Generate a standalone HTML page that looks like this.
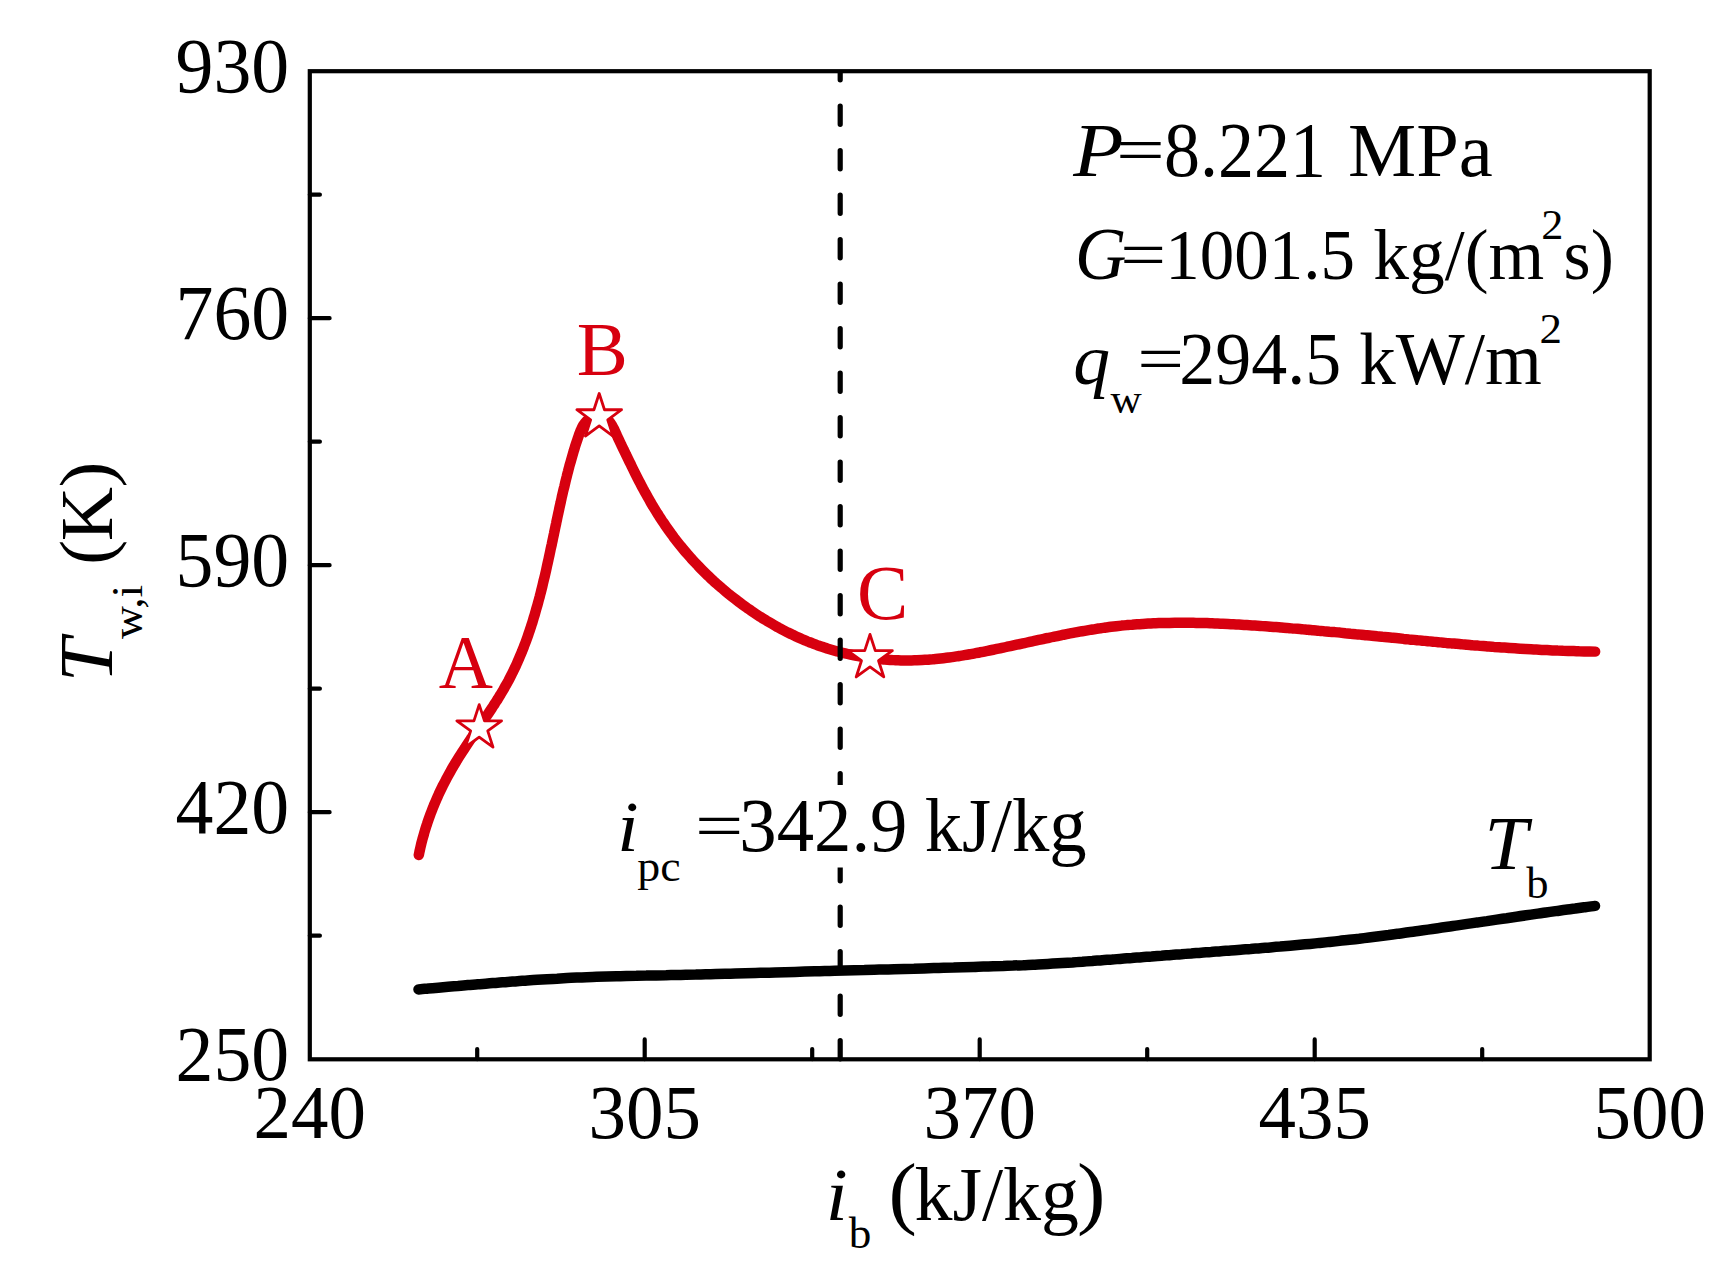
<!DOCTYPE html>
<html lang="en"><head><meta charset="utf-8"><title>Wall temperature vs bulk enthalpy</title>
<style>html,body{margin:0;padding:0;background:#fff}svg{display:block}text{font-family:"Liberation Serif", "Times New Roman", serif;fill:#000}.i{font-style:italic}.r{fill:#d7000f}</style>
</head><body>
<svg width="1728" height="1275" viewBox="0 0 1728 1275">
<rect width="1728" height="1275" fill="#fff"/>
<path d="M418.5,989.4 C420.1,989.3 425.1,988.8 428.4,988.5 C431.7,988.3 435.0,988.0 438.3,987.7 C441.6,987.4 444.8,987.1 448.1,986.8 C451.4,986.5 454.7,986.2 458.0,986.0 C461.3,985.7 464.6,985.4 467.9,985.1 C471.2,984.8 474.5,984.6 477.8,984.3 C481.1,984.0 484.4,983.8 487.7,983.5 C491.0,983.2 494.3,983.0 497.6,982.7 C500.9,982.4 504.2,982.2 507.5,981.9 C510.8,981.7 514.1,981.4 517.4,981.2 C520.7,981.0 524.0,980.7 527.3,980.5 C530.6,980.3 533.9,980.1 537.2,979.8 C540.5,979.6 543.8,979.4 547.1,979.2 C550.4,979.0 553.7,978.8 557.0,978.7 C560.3,978.5 563.6,978.3 566.9,978.1 C570.2,978.0 573.5,977.8 576.8,977.6 C580.1,977.5 583.4,977.3 586.7,977.2 C590.0,977.1 593.3,977.0 596.6,976.8 C599.9,976.7 603.2,976.6 606.5,976.5 C609.8,976.4 613.1,976.3 616.4,976.2 C619.7,976.2 623.0,976.1 626.3,976.0 C629.6,975.9 633.0,975.8 636.3,975.8 C639.6,975.7 642.9,975.6 646.2,975.6 C649.5,975.5 652.8,975.4 656.1,975.4 C659.4,975.3 662.7,975.2 666.0,975.2 C669.3,975.1 672.6,975.1 675.9,975.0 C679.2,974.9 682.5,974.9 685.8,974.8 C689.2,974.7 692.5,974.6 695.8,974.6 C699.1,974.5 702.4,974.4 705.7,974.3 C709.0,974.2 712.3,974.2 715.6,974.1 C718.9,974.0 722.2,973.9 725.5,973.8 C728.8,973.7 732.1,973.7 735.4,973.6 C738.7,973.5 742.0,973.4 745.3,973.3 C748.7,973.2 752.0,973.1 755.3,973.0 C758.6,972.9 761.9,972.8 765.2,972.7 C768.5,972.7 771.8,972.6 775.1,972.5 C778.4,972.4 781.7,972.3 785.0,972.2 C788.3,972.1 791.6,972.0 794.9,971.9 C798.2,971.8 801.5,971.7 804.8,971.6 C808.1,971.5 811.4,971.4 814.8,971.3 C818.1,971.2 821.4,971.1 824.7,971.0 C828.0,970.9 831.3,970.9 834.6,970.8 C837.9,970.7 841.2,970.6 844.5,970.5 C847.8,970.4 851.1,970.3 854.4,970.2 C857.7,970.1 861.0,970.0 864.3,970.0 C867.6,969.9 870.9,969.8 874.3,969.7 C877.6,969.6 880.9,969.5 884.2,969.4 C887.5,969.4 890.8,969.3 894.1,969.2 C897.4,969.1 900.7,969.0 904.0,968.9 C907.3,968.8 910.6,968.7 913.9,968.7 C917.2,968.6 920.5,968.5 923.8,968.4 C927.1,968.3 930.4,968.2 933.8,968.1 C937.1,968.0 940.4,967.9 943.7,967.8 C947.0,967.7 950.3,967.6 953.6,967.6 C956.9,967.5 960.2,967.4 963.5,967.3 C966.8,967.2 970.1,967.1 973.4,967.0 C976.7,966.9 980.0,966.7 983.3,966.6 C986.6,966.5 989.9,966.4 993.2,966.3 C996.6,966.2 999.9,966.1 1003.2,966.0 C1006.5,965.8 1009.8,965.7 1013.1,965.6 C1016.4,965.4 1019.7,965.3 1023.0,965.2 C1026.3,965.0 1029.6,964.9 1032.9,964.7 C1036.2,964.5 1039.5,964.4 1042.8,964.2 C1046.1,964.0 1049.4,963.8 1052.7,963.6 C1056.0,963.4 1059.3,963.2 1062.6,963.0 C1065.9,962.8 1069.2,962.6 1072.5,962.4 C1075.8,962.1 1079.1,961.9 1082.4,961.7 C1085.7,961.4 1089.0,961.2 1092.3,961.0 C1095.6,960.7 1098.9,960.5 1102.2,960.2 C1105.5,960.0 1108.8,959.7 1112.1,959.5 C1115.4,959.2 1118.7,959.0 1121.9,958.7 C1125.2,958.5 1128.5,958.2 1131.8,958.0 C1135.1,957.7 1138.4,957.5 1141.7,957.2 C1145.0,957.0 1148.3,956.7 1151.6,956.5 C1154.9,956.2 1158.2,955.9 1161.5,955.7 C1164.8,955.4 1168.1,955.2 1171.4,954.9 C1174.7,954.7 1178.0,954.4 1181.3,954.2 C1184.6,953.9 1187.9,953.7 1191.2,953.5 C1194.5,953.2 1197.8,953.0 1201.1,952.7 C1204.4,952.5 1207.7,952.2 1211.0,952.0 C1214.3,951.7 1217.6,951.5 1220.9,951.2 C1224.2,951.0 1227.5,950.7 1230.8,950.5 C1234.1,950.3 1237.4,950.0 1240.7,949.7 C1244.0,949.5 1247.3,949.2 1250.6,949.0 C1253.8,948.7 1257.1,948.5 1260.4,948.2 C1263.7,947.9 1267.0,947.7 1270.3,947.4 C1273.6,947.1 1276.9,946.8 1280.2,946.6 C1283.5,946.3 1286.8,946.0 1290.1,945.7 C1293.4,945.4 1296.7,945.1 1300.0,944.8 C1303.3,944.5 1306.6,944.2 1309.9,943.9 C1313.2,943.6 1316.4,943.3 1319.7,942.9 C1323.0,942.6 1326.3,942.3 1329.6,941.9 C1332.9,941.6 1336.2,941.3 1339.5,940.9 C1342.7,940.5 1346.0,940.2 1349.3,939.8 C1352.6,939.4 1355.9,939.0 1359.2,938.7 C1362.5,938.3 1365.7,937.9 1369.0,937.5 C1372.3,937.1 1375.6,936.7 1378.9,936.2 C1382.1,935.8 1385.4,935.4 1388.7,935.0 C1392.0,934.5 1395.3,934.1 1398.5,933.7 C1401.8,933.2 1405.1,932.8 1408.4,932.3 C1411.6,931.9 1414.9,931.4 1418.2,931.0 C1421.5,930.5 1424.7,930.1 1428.0,929.6 C1431.3,929.2 1434.6,928.7 1437.8,928.2 C1441.1,927.8 1444.4,927.3 1447.7,926.8 C1450.9,926.3 1454.2,925.9 1457.5,925.4 C1460.7,924.9 1464.0,924.4 1467.3,923.9 C1470.6,923.5 1473.8,923.0 1477.1,922.5 C1480.4,922.0 1483.6,921.5 1486.9,921.1 C1490.2,920.6 1493.5,920.1 1496.7,919.6 C1500.0,919.1 1503.3,918.6 1506.6,918.2 C1509.8,917.7 1513.1,917.2 1516.4,916.7 C1519.6,916.3 1522.9,915.8 1526.2,915.3 C1529.5,914.8 1532.7,914.4 1536.0,913.9 C1539.3,913.4 1542.6,913.0 1545.8,912.5 C1549.1,912.1 1552.4,911.6 1555.6,911.1 C1558.9,910.7 1562.2,910.2 1565.5,909.8 C1568.7,909.4 1572.0,908.9 1575.3,908.5 C1578.6,908.0 1581.9,907.6 1585.1,907.2 C1588.4,906.8 1593.3,906.1 1595.0,905.9" fill="none" stroke="#000" stroke-width="10.5" stroke-linecap="round" stroke-linejoin="round"/>
<path d="M418.8,855.0 C419.0,854.2 419.5,851.5 419.9,849.8 C420.3,848.0 420.7,846.3 421.1,844.5 C421.5,842.8 422.0,841.1 422.4,839.4 C422.9,837.6 423.4,835.9 423.9,834.2 C424.3,832.5 424.9,830.8 425.4,829.1 C425.9,827.4 426.4,825.7 427.0,824.1 C427.5,822.4 428.1,820.7 428.7,819.0 C429.3,817.4 429.9,815.7 430.5,814.0 C431.1,812.4 431.8,810.7 432.4,809.1 C433.1,807.5 433.7,805.8 434.4,804.2 C435.1,802.6 435.8,800.9 436.5,799.3 C437.2,797.7 437.9,796.1 438.6,794.5 C439.4,792.9 440.1,791.3 440.9,789.7 C441.7,788.1 442.4,786.5 443.2,784.9 C444.0,783.4 444.8,781.8 445.7,780.2 C446.5,778.6 447.3,777.1 448.2,775.5 C449.0,774.0 449.9,772.4 450.7,770.9 C451.6,769.3 452.5,767.8 453.4,766.3 C454.3,764.7 455.2,763.2 456.1,761.7 C457.1,760.1 458.0,758.6 458.9,757.1 C459.9,755.6 460.9,754.1 461.8,752.6 C462.8,751.1 463.8,749.6 464.8,748.1 C465.7,746.6 466.7,745.1 467.7,743.6 C468.7,742.1 469.7,740.6 470.7,739.1 C471.8,737.7 472.8,736.2 473.8,734.7 C474.8,733.2 475.8,731.7 476.8,730.3 C477.9,728.8 478.9,727.3 479.9,725.8 C480.9,724.3 481.9,722.9 482.9,721.4 C484.0,719.9 485.0,718.4 486.0,716.9 C487.0,715.4 488.0,714.0 489.0,712.5 C490.0,711.0 491.0,709.5 492.0,708.0 C493.0,706.5 493.9,705.0 494.9,703.5 C495.9,702.0 496.8,700.5 497.8,699.0 C498.7,697.5 499.7,696.0 500.6,694.4 C501.5,692.9 502.4,691.4 503.3,689.9 C504.2,688.3 505.1,686.8 505.9,685.2 C506.8,683.7 507.7,682.1 508.5,680.6 C509.3,679.0 510.1,677.5 510.9,675.9 C511.7,674.3 512.5,672.7 513.3,671.1 C514.1,669.6 514.8,668.0 515.6,666.4 C516.3,664.8 517.0,663.2 517.7,661.6 C518.5,659.9 519.2,658.3 519.8,656.7 C520.5,655.1 521.2,653.5 521.9,651.8 C522.5,650.2 523.2,648.6 523.8,646.9 C524.4,645.3 525.1,643.6 525.7,642.0 C526.3,640.3 526.9,638.7 527.5,637.0 C528.1,635.3 528.6,633.7 529.2,632.0 C529.8,630.3 530.3,628.7 530.9,627.0 C531.4,625.3 532.0,623.6 532.5,621.9 C533.0,620.2 533.5,618.5 534.0,616.8 C534.6,615.2 535.1,613.5 535.5,611.8 C536.0,610.0 536.5,608.3 537.0,606.6 C537.5,604.9 537.9,603.2 538.4,601.5 C538.9,599.8 539.3,598.1 539.8,596.3 C540.2,594.6 540.7,592.9 541.1,591.2 C541.5,589.5 542.0,587.7 542.4,586.0 C542.8,584.3 543.2,582.5 543.6,580.8 C544.0,579.1 544.5,577.3 544.9,575.6 C545.3,573.8 545.7,572.1 546.1,570.4 C546.5,568.6 546.8,566.9 547.2,565.1 C547.6,563.4 548.0,561.6 548.4,559.9 C548.8,558.2 549.1,556.4 549.5,554.7 C549.9,552.9 550.3,551.2 550.6,549.4 C551.0,547.7 551.4,545.9 551.8,544.2 C552.1,542.4 552.5,540.7 552.9,538.9 C553.2,537.2 553.6,535.4 554.0,533.7 C554.3,531.9 554.7,530.2 555.1,528.4 C555.4,526.7 555.8,524.9 556.2,523.2 C556.5,521.4 556.9,519.7 557.3,517.9 C557.7,516.2 558.0,514.4 558.4,512.7 C558.8,511.0 559.2,509.2 559.5,507.5 C559.9,505.7 560.3,504.0 560.7,502.3 C561.1,500.5 561.5,498.8 561.8,497.0 C562.2,495.3 562.6,493.6 563.0,491.9 C563.4,490.1 563.8,488.4 564.3,486.7 C564.7,484.9 565.1,483.2 565.5,481.5 C565.9,479.8 566.3,478.1 566.8,476.3 C567.2,474.6 567.6,472.9 568.1,471.2 C568.5,469.5 569.0,467.8 569.4,466.1 C569.9,464.4 570.4,462.7 570.9,461.0 C571.3,459.3 571.8,457.6 572.3,455.9 C572.8,454.2 573.3,452.5 573.8,450.8 C574.3,449.0 574.9,447.3 575.4,445.6 C575.9,443.9 576.5,442.2 577.1,440.5 C577.6,438.8 578.2,437.1 578.8,435.4 C579.4,433.7 580.0,431.9 580.7,430.3 C581.5,428.7 582.2,427.0 583.1,425.5 C584.1,424.0 585.1,422.6 586.3,421.3 C587.5,420.0 588.9,418.8 590.4,417.9 C591.9,416.9 593.6,416.1 595.3,415.7 C597.0,415.3 598.8,415.2 600.4,415.5 C602.1,415.9 603.7,416.6 605.2,417.6 C606.6,418.5 608.0,419.8 609.2,421.2 C610.4,422.5 611.3,424.1 612.2,425.6 C613.2,427.2 613.9,428.9 614.7,430.5 C615.4,432.2 616.2,433.9 616.9,435.5 C617.7,437.1 618.4,438.7 619.2,440.3 C619.9,441.9 620.7,443.5 621.4,445.1 C622.2,446.7 623.0,448.2 623.7,449.8 C624.5,451.4 625.3,453.0 626.0,454.6 C626.8,456.2 627.6,457.8 628.3,459.4 C629.1,461.0 629.9,462.6 630.7,464.2 C631.4,465.8 632.2,467.4 633.0,469.0 C633.8,470.6 634.6,472.2 635.4,473.8 C636.2,475.4 637.0,477.0 637.8,478.6 C638.6,480.2 639.4,481.8 640.3,483.3 C641.1,484.9 641.9,486.5 642.8,488.1 C643.6,489.6 644.4,491.2 645.3,492.8 C646.2,494.3 647.0,495.9 647.9,497.4 C648.8,498.9 649.7,500.5 650.5,502.0 C651.4,503.5 652.3,505.1 653.2,506.6 C654.2,508.1 655.1,509.6 656.0,511.1 C656.9,512.6 657.9,514.1 658.8,515.6 C659.8,517.1 660.7,518.6 661.7,520.1 C662.7,521.6 663.7,523.0 664.7,524.5 C665.7,526.0 666.7,527.4 667.7,528.9 C668.7,530.3 669.7,531.7 670.8,533.2 C671.8,534.6 672.9,536.0 673.9,537.5 C675.0,538.9 676.1,540.3 677.2,541.7 C678.3,543.1 679.4,544.5 680.5,545.8 C681.6,547.2 682.8,548.6 683.9,550.0 C685.0,551.3 686.2,552.7 687.4,554.0 C688.5,555.4 689.7,556.7 690.9,558.0 C692.1,559.4 693.3,560.7 694.5,562.0 C695.7,563.3 697.0,564.6 698.2,565.9 C699.4,567.2 700.7,568.5 701.9,569.7 C703.2,571.0 704.5,572.3 705.7,573.5 C707.0,574.8 708.3,576.0 709.6,577.2 C710.9,578.5 712.2,579.7 713.5,580.9 C714.9,582.1 716.2,583.3 717.5,584.5 C718.9,585.7 720.2,586.8 721.6,588.0 C722.9,589.2 724.3,590.3 725.7,591.5 C727.0,592.6 728.4,593.8 729.8,594.9 C731.2,596.0 732.6,597.1 734.0,598.2 C735.4,599.3 736.8,600.4 738.3,601.5 C739.7,602.6 741.1,603.6 742.6,604.7 C744.0,605.7 745.5,606.8 746.9,607.8 C748.4,608.8 749.8,609.9 751.3,610.9 C752.8,611.9 754.3,612.9 755.7,613.8 C757.2,614.8 758.7,615.8 760.2,616.8 C761.7,617.7 763.2,618.7 764.7,619.6 C766.2,620.5 767.8,621.4 769.3,622.3 C770.8,623.2 772.3,624.1 773.9,625.0 C775.4,625.9 777.0,626.7 778.5,627.6 C780.1,628.4 781.6,629.3 783.2,630.1 C784.8,630.9 786.3,631.7 787.9,632.5 C789.5,633.3 791.1,634.1 792.7,634.8 C794.3,635.6 795.9,636.3 797.5,637.1 C799.1,637.8 800.7,638.5 802.3,639.2 C804.0,639.9 805.6,640.6 807.2,641.3 C808.8,641.9 810.5,642.6 812.1,643.2 C813.8,643.8 815.4,644.5 817.1,645.1 C818.8,645.7 820.4,646.3 822.1,646.8 C823.8,647.4 825.5,647.9 827.1,648.5 C828.8,649.0 830.5,649.5 832.2,650.0 C833.9,650.5 835.6,651.0 837.3,651.5 C839.1,651.9 840.8,652.4 842.5,652.8 C844.2,653.2 846.0,653.6 847.7,654.0 C849.4,654.4 851.2,654.8 852.9,655.1 C854.7,655.5 856.4,655.8 858.2,656.1 C859.9,656.4 861.7,656.7 863.5,657.0 C865.2,657.3 867.0,657.6 868.8,657.8 C870.5,658.1 872.3,658.3 874.1,658.5 C875.9,658.7 877.7,658.9 879.4,659.1 C881.2,659.3 883.0,659.4 884.8,659.6 C886.6,659.7 888.4,659.8 890.1,659.9 C891.9,660.1 893.7,660.1 895.5,660.2 C897.3,660.3 899.1,660.3 900.9,660.4 C902.7,660.4 904.4,660.4 906.2,660.4 C908.0,660.5 909.8,660.4 911.6,660.4 C913.4,660.4 915.1,660.3 916.9,660.3 C918.7,660.2 920.5,660.1 922.2,660.0 C924.0,659.9 925.8,659.8 927.6,659.7 C929.3,659.6 931.1,659.4 932.9,659.3 C934.6,659.1 936.4,659.0 938.1,658.8 C939.9,658.6 941.7,658.4 943.4,658.2 C945.2,658.0 946.9,657.8 948.7,657.5 C950.4,657.3 952.2,657.1 953.9,656.8 C955.7,656.5 957.4,656.3 959.2,656.0 C960.9,655.7 962.7,655.5 964.4,655.2 C966.2,654.9 967.9,654.6 969.7,654.3 C971.4,654.0 973.2,653.6 974.9,653.3 C976.6,653.0 978.4,652.7 980.1,652.3 C981.9,652.0 983.6,651.7 985.4,651.3 C987.1,651.0 988.8,650.6 990.6,650.3 C992.3,649.9 994.1,649.6 995.8,649.2 C997.5,648.8 999.3,648.5 1001.0,648.1 C1002.8,647.7 1004.5,647.4 1006.2,647.0 C1008.0,646.6 1009.7,646.3 1011.5,645.9 C1013.2,645.5 1014.9,645.1 1016.7,644.7 C1018.4,644.4 1020.2,644.0 1021.9,643.6 C1023.6,643.2 1025.4,642.9 1027.1,642.5 C1028.9,642.1 1030.6,641.7 1032.4,641.3 C1034.1,641.0 1035.8,640.6 1037.6,640.2 C1039.3,639.8 1041.1,639.5 1042.8,639.1 C1044.6,638.7 1046.3,638.3 1048.0,638.0 C1049.8,637.6 1051.5,637.2 1053.3,636.9 C1055.0,636.5 1056.8,636.2 1058.5,635.8 C1060.3,635.4 1062.0,635.1 1063.7,634.7 C1065.5,634.4 1067.2,634.1 1069.0,633.7 C1070.7,633.4 1072.5,633.0 1074.2,632.7 C1076.0,632.4 1077.7,632.1 1079.5,631.7 C1081.2,631.4 1083.0,631.1 1084.7,630.8 C1086.5,630.5 1088.2,630.2 1090.0,629.9 C1091.7,629.6 1093.5,629.4 1095.2,629.1 C1097.0,628.8 1098.8,628.5 1100.5,628.3 C1102.3,628.0 1104.0,627.8 1105.8,627.5 C1107.5,627.3 1109.3,627.1 1111.1,626.8 C1112.8,626.6 1114.6,626.4 1116.3,626.2 C1118.1,626.0 1119.9,625.8 1121.6,625.6 C1123.4,625.5 1125.2,625.3 1126.9,625.1 C1128.7,625.0 1130.5,624.8 1132.2,624.7 C1134.0,624.5 1135.8,624.4 1137.5,624.3 C1139.3,624.1 1141.1,624.0 1142.8,623.9 C1144.6,623.8 1146.4,623.7 1148.1,623.6 C1149.9,623.5 1151.7,623.4 1153.5,623.3 C1155.2,623.3 1157.0,623.2 1158.8,623.1 C1160.6,623.1 1162.3,623.0 1164.1,623.0 C1165.9,622.9 1167.7,622.9 1169.4,622.9 C1171.2,622.8 1173.0,622.8 1174.8,622.8 C1176.5,622.8 1178.3,622.8 1180.1,622.8 C1181.9,622.8 1183.6,622.8 1185.4,622.8 C1187.2,622.8 1189.0,622.8 1190.8,622.8 C1192.5,622.8 1194.3,622.9 1196.1,622.9 C1197.9,622.9 1199.7,623.0 1201.4,623.0 C1203.2,623.0 1205.0,623.1 1206.8,623.1 C1208.6,623.2 1210.3,623.3 1212.1,623.3 C1213.9,623.4 1215.7,623.4 1217.5,623.5 C1219.2,623.6 1221.0,623.7 1222.8,623.7 C1224.6,623.8 1226.4,623.9 1228.1,624.0 C1229.9,624.1 1231.7,624.2 1233.5,624.3 C1235.3,624.4 1237.0,624.5 1238.8,624.6 C1240.6,624.7 1242.4,624.8 1244.1,624.9 C1245.9,625.0 1247.7,625.1 1249.5,625.2 C1251.3,625.3 1253.0,625.5 1254.8,625.6 C1256.6,625.7 1258.4,625.8 1260.2,625.9 C1261.9,626.1 1263.7,626.2 1265.5,626.3 C1267.3,626.4 1269.0,626.6 1270.8,626.7 C1272.6,626.8 1274.4,627.0 1276.1,627.1 C1277.9,627.2 1279.7,627.4 1281.5,627.5 C1283.2,627.7 1285.0,627.8 1286.8,627.9 C1288.6,628.1 1290.3,628.2 1292.1,628.4 C1293.9,628.5 1295.7,628.7 1297.4,628.8 C1299.2,629.0 1301.0,629.1 1302.8,629.3 C1304.5,629.4 1306.3,629.6 1308.1,629.7 C1309.8,629.9 1311.6,630.0 1313.4,630.2 C1315.2,630.4 1316.9,630.5 1318.7,630.7 C1320.5,630.8 1322.2,631.0 1324.0,631.2 C1325.8,631.3 1327.6,631.5 1329.3,631.7 C1331.1,631.8 1332.9,632.0 1334.6,632.1 C1336.4,632.3 1338.2,632.5 1340.0,632.6 C1341.7,632.8 1343.5,633.0 1345.3,633.2 C1347.0,633.3 1348.8,633.5 1350.6,633.7 C1352.3,633.8 1354.1,634.0 1355.9,634.2 C1357.7,634.3 1359.4,634.5 1361.2,634.7 C1363.0,634.9 1364.7,635.0 1366.5,635.2 C1368.3,635.4 1370.0,635.6 1371.8,635.7 C1373.6,635.9 1375.3,636.1 1377.1,636.3 C1378.9,636.4 1380.6,636.6 1382.4,636.8 C1384.2,636.9 1386.0,637.1 1387.7,637.3 C1389.5,637.5 1391.3,637.6 1393.0,637.8 C1394.8,638.0 1396.6,638.2 1398.3,638.3 C1400.1,638.5 1401.9,638.7 1403.6,638.9 C1405.4,639.0 1407.2,639.2 1408.9,639.4 C1410.7,639.5 1412.5,639.7 1414.2,639.9 C1416.0,640.1 1417.8,640.2 1419.6,640.4 C1421.3,640.6 1423.1,640.7 1424.9,640.9 C1426.6,641.1 1428.4,641.2 1430.2,641.4 C1431.9,641.6 1433.7,641.7 1435.5,641.9 C1437.2,642.1 1439.0,642.2 1440.8,642.4 C1442.5,642.6 1444.3,642.7 1446.1,642.9 C1447.8,643.0 1449.6,643.2 1451.4,643.4 C1453.2,643.5 1454.9,643.7 1456.7,643.8 C1458.5,644.0 1460.2,644.1 1462.0,644.3 C1463.8,644.4 1465.5,644.6 1467.3,644.7 C1469.1,644.9 1470.8,645.0 1472.6,645.2 C1474.4,645.3 1476.2,645.5 1477.9,645.6 C1479.7,645.8 1481.5,645.9 1483.2,646.0 C1485.0,646.2 1486.8,646.3 1488.6,646.5 C1490.3,646.6 1492.1,646.7 1493.9,646.9 C1495.6,647.0 1497.4,647.1 1499.2,647.2 C1501.0,647.4 1502.7,647.5 1504.5,647.6 C1506.3,647.7 1508.0,647.9 1509.8,648.0 C1511.6,648.1 1513.4,648.2 1515.1,648.3 C1516.9,648.5 1518.7,648.6 1520.4,648.7 C1522.2,648.8 1524.0,648.9 1525.8,649.0 C1527.5,649.1 1529.3,649.2 1531.1,649.3 C1532.9,649.4 1534.6,649.5 1536.4,649.6 C1538.2,649.7 1540.0,649.8 1541.7,649.9 C1543.5,650.0 1545.3,650.0 1547.1,650.1 C1548.8,650.2 1550.6,650.3 1552.4,650.4 C1554.2,650.4 1556.0,650.5 1557.7,650.6 C1559.5,650.6 1561.3,650.7 1563.1,650.8 C1564.8,650.8 1566.6,650.9 1568.4,651.0 C1570.2,651.0 1572.0,651.1 1573.7,651.1 C1575.5,651.2 1577.3,651.2 1579.1,651.3 C1580.9,651.3 1582.6,651.3 1584.4,651.4 C1586.2,651.4 1588.0,651.5 1589.8,651.5 C1591.5,651.5 1594.2,651.5 1595.1,651.6" fill="none" stroke="#d7000f" stroke-width="10.5" stroke-linecap="round" stroke-linejoin="round"/>
<line x1="840.2" y1="72.7" x2="840.2" y2="1059.2" stroke="#000" stroke-width="5.2" stroke-linecap="round" stroke-dasharray="18.2 26.3" stroke-dashoffset="11.1"/>
<rect x="612" y="785" width="480" height="82.5" fill="#fff"/>
<polygon points="479.20,704.60 484.48,720.84 501.55,720.84 487.74,730.87 493.01,747.11 479.20,737.08 465.39,747.11 470.66,730.87 456.85,720.84 473.92,720.84" fill="#fff" stroke="#d7000f" stroke-width="2.8" stroke-linejoin="round"/>
<polygon points="599.20,393.50 604.48,409.74 621.55,409.74 607.74,419.77 613.01,436.01 599.20,425.98 585.39,436.01 590.66,419.77 576.85,409.74 593.92,409.74" fill="#fff" stroke="#d7000f" stroke-width="2.8" stroke-linejoin="round"/>
<polygon points="870.00,634.45 875.28,650.69 892.35,650.69 878.54,660.72 883.81,676.96 870.00,666.93 856.19,676.96 861.46,660.72 847.65,650.69 864.72,650.69" fill="#fff" stroke="#d7000f" stroke-width="2.8" stroke-linejoin="round"/>
<rect x="309.8" y="71.2" width="1339.9" height="988.1" fill="none" stroke="#000" stroke-width="4.2"/>
<path d="M477.2,1059.2 v-10.1 M309.8,935.7 h10.1 M644.7,1059.2 v-19.8 M309.8,812.2 h19.8 M812.2,1059.2 v-10.1 M309.8,688.7 h10.1 M979.7,1059.2 v-19.8 M309.8,565.2 h19.8 M1147.2,1059.2 v-10.1 M309.8,441.7 h10.1 M1314.7,1059.2 v-19.8 M309.8,318.2 h19.8 M1482.2,1059.2 v-10.1 M309.8,194.7 h10.1" fill="none" stroke="#000" stroke-width="4.2" stroke-linecap="round"/>
<text transform="translate(175.54 1080.08) scale(0.9735 1)" font-size="77.87">250</text>
<text transform="translate(175.54 833.06) scale(0.9735 1)" font-size="77.87">420</text>
<text transform="translate(175.54 586.03) scale(0.9735 1)" font-size="77.87">590</text>
<text transform="translate(175.54 339.01) scale(0.9735 1)" font-size="77.87">760</text>
<text transform="translate(175.54 91.98) scale(0.9735 1)" font-size="77.87">930</text>
<text text-anchor="middle" transform="translate(309.75 1137.73) scale(0.9720 1)" font-size="77.19">240</text>
<text text-anchor="middle" transform="translate(644.73 1137.73) scale(0.9720 1)" font-size="77.19">305</text>
<text text-anchor="middle" transform="translate(979.70 1137.73) scale(0.9720 1)" font-size="77.19">370</text>
<text text-anchor="middle" transform="translate(1314.68 1137.73) scale(0.9720 1)" font-size="77.19">435</text>
<text text-anchor="middle" transform="translate(1649.65 1137.73) scale(0.9720 1)" font-size="77.19">500</text>
<text class="r" transform="translate(438.85 687.60) scale(0.9807 1)" font-size="76.52">A</text>
<text class="r" transform="translate(576.80 374.61) scale(1.0133 1)" font-size="75.59">B</text>
<text class="r" transform="translate(856.97 619.18) scale(0.9970 1)" font-size="77.17">C</text>
<text class="i" transform="translate(1073.19 175.70) scale(1.0800 1)" font-size="76.18">P</text>
<text transform="translate(1116.07 171.45) scale(1.3889 1)" font-size="62.40">=</text>
<text transform="translate(1163.90 175.70) scale(0.9304 1)" font-size="77.44">8.221</text>
<text transform="translate(1348.00 175.70) scale(1.0060 1)" font-size="76.18">MPa</text>
<text class="i" transform="translate(1074.99 279.35) scale(0.9711 1)" font-size="73.28">G</text>
<text transform="translate(1120.24 276.63) scale(1.2468 1)" font-size="65.20">=</text>
<text transform="translate(1165.26 278.80) scale(0.9463 1)" font-size="72.93">1001.5</text>
<text transform="translate(1373.27 278.80) scale(1.0091 1)" font-size="70.94">kg/(m</text>
<text transform="translate(1541.21 238.60) scale(1.0738 1)" font-size="41.21">2</text>
<text transform="translate(1563.62 278.80) scale(0.9761 1)" font-size="71.19">s)</text>
<text class="i" transform="translate(1073.31 384.41) scale(1.0304 1)" font-size="71.50">q</text>
<text transform="translate(1110.50 412.98) scale(1.0361 1)" font-size="41.70">w</text>
<text transform="translate(1137.15 381.48) scale(1.2502 1)" font-size="66.40">=</text>
<text transform="translate(1179.36 383.90) scale(0.9606 1)" font-size="74.87">294.5</text>
<text transform="translate(1359.34 383.90) scale(0.9976 1)" font-size="73.24">kW/m</text>
<text transform="translate(1539.47 343.40) scale(1.0424 1)" font-size="43.17">2</text>
<text class="i" transform="translate(617.31 850.70) scale(1.0800 1)" font-size="71.25">i</text>
<text transform="translate(637.21 880.69) scale(1.0588 1)" font-size="43.36">pc</text>
<text transform="translate(694.91 847.98) scale(1.2923 1)" font-size="66.40">=</text>
<text transform="translate(739.35 850.70) scale(0.9823 1)" font-size="76.08">342.9</text>
<text transform="translate(924.71 850.70) scale(0.9894 1)" font-size="75.54">kJ/kg</text>
<text class="i" transform="translate(1484.44 868.80) scale(1.0318 1)" font-size="75.42">T</text>
<text transform="translate(1526.20 897.86) scale(1.0064 1)" font-size="44.26">b</text>
<text class="i" transform="translate(825.79 1219.50) scale(1.0800 1)" font-size="73.21">i</text>
<text transform="translate(848.80 1248.37) scale(1.0445 1)" font-size="43.26">b</text>
<text transform="translate(888.47 1218.69) scale(1.0696 1)" font-size="79.56">(</text>
<text transform="translate(914.48 1219.50) scale(0.9936 1)" font-size="76.40">kJ/kg</text>
<text transform="translate(1077.12 1218.69) scale(1.0739 1)" font-size="79.56">)</text>
<g transform="translate(112.2 677.5) rotate(-90)"><text class="i" transform="translate(-4.85 -0.30) scale(1.0468 1)" font-size="75.73">T</text><text transform="translate(38.60 29.50) scale(1.0171 1)" font-size="44.98">w,i</text><text transform="translate(112.65 -0.72) scale(1.0201 1)" font-size="73.04">(</text><text transform="translate(136.35 -0.30) scale(1.0151 1)" font-size="74.05">K</text><text transform="translate(189.98 -0.72) scale(1.0634 1)" font-size="73.04">)</text></g>
</svg></body></html>
